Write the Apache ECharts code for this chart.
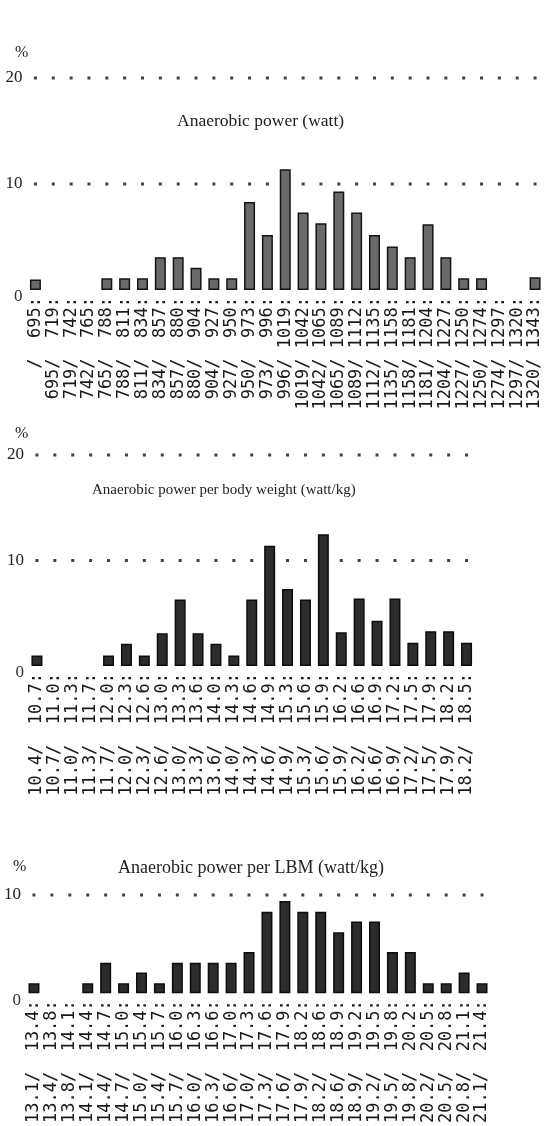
<!DOCTYPE html>
<html>
<head>
<meta charset="utf-8">
<script src="https://cdn.jsdelivr.net/npm/echarts@6/dist/echarts.min.js"></script>
<style>
html,body{margin:0;padding:0;background:#fff;}
#chart{width:544px;height:1126px;}
</style>
</head>
<body>
<div id="chart"></div>
<script>
// ---- data ----
const edges1 = ['', '695', '719', '742', '765', '788', '811', '834', '857', '880', '904', '927', '950', '973', '996',
  '1019', '1042', '1065', '1089', '1112', '1135', '1158', '1181', '1204', '1227', '1250', '1274', '1297', '1320', '1343'];
const values1 = [1.0, 0, 0, 0, 1.1, 1.1, 1.1, 3.1, 3.1, 2.1, 1.1, 1.1, 8.3, 5.2, 11.4, 7.3, 6.3, 9.3, 7.3, 5.2,
  4.1, 3.1, 6.2, 3.1, 1.1, 1.1, 0, 0, 1.2];

const edges2 = ['10.4', '10.7', '11.0', '11.3', '11.7', '12.0', '12.3', '12.6', '13.0', '13.3', '13.6', '14.0', '14.3',
  '14.6', '14.9', '15.3', '15.6', '15.9', '16.2', '16.6', '16.9', '17.2', '17.5', '17.9', '18.2', '18.5'];
const values2 = [1.0, 0, 0, 0, 1.0, 2.1, 1.0, 3.1, 6.3, 3.1, 2.1, 1.0, 6.3, 11.4, 7.3, 6.3, 12.5, 3.2, 6.4, 4.3,
  6.4, 2.2, 3.3, 3.3, 2.2];

const edges3 = ['13.1', '13.4', '13.8', '14.1', '14.4', '14.7', '15.0', '15.4', '15.7', '16.0', '16.3', '16.6', '17.0',
  '17.3', '17.6', '17.9', '18.2', '18.6', '18.9', '19.2', '19.5', '19.8', '20.2', '20.5', '20.8', '21.1', '21.4'];
const values3 = [1.0, 0, 0, 1.0, 3.1, 1.0, 2.1, 1.0, 3.1, 3.1, 3.1, 3.1, 4.2, 8.3, 9.4, 8.3, 8.3, 6.2, 7.3, 7.3,
  4.2, 4.2, 1.0, 1.0, 2.1, 1.0];

const yTicks1 = [0, 10, 20];
const yTicks2 = [0, 10, 20];
const yTicks3 = [0, 10];

const titles = ['Anaerobic power (watt)', 'Anaerobic power per body weight (watt/kg)', 'Anaerobic power per LBM (watt/kg)'];
const unitLabel = '%';

// ---- build ----
function makeLabels(edges, sep) {
  const out = [];
  for (let i = 1; i < edges.length; i++) {
    const lo = (edges[i - 1] + '/').padStart(5, ' ');
    const hi = (edges[i] + ':').padStart(5, ' ');
    out.push(lo + sep + hi);
  }
  return out;
}

const panels = [
  { edges: edges1, values: values1, ticks: yTicks1, sep: ' ', grid: { left: 26.5, width: 520.5, top: 78, height: 212 },
    fill: '#6a6a6a', border: '#151515', titleBox: { left: 177, top: 112, size: 17.5 }, pct: { left: 15, top: 45 } },
  { edges: edges2, values: values2, ticks: yTicks2, sep: '  ', grid: { left: 28, width: 447.5, top: 455, height: 211 },
    fill: '#2c2c2c', border: '#0d0d0d', titleBox: { left: 92, top: 483, size: 15 }, pct: { left: 15, top: 426 } },
  { edges: edges3, values: values3, ticks: yTicks3, sep: '  ', grid: { left: 25, width: 466, top: 895, height: 102 },
    fill: '#2c2c2c', border: '#0d0d0d', titleBox: { left: 118, top: 859, size: 18 }, pct: { left: 13, top: 859 } }
];

const grid = [], xAxis = [], yAxis = [], series = [], title = [];
const serif = "'Liberation Serif', 'DejaVu Serif', serif";

panels.forEach((p, gi) => {
  const cats = makeLabels(p.edges, p.sep);
  const maxV = p.ticks[p.ticks.length - 1];
  grid.push(Object.assign({ containLabel: false }, p.grid));
  xAxis.push({
    type: 'category', gridIndex: gi, data: cats, boundaryGap: true,
    axisLine: { show: false }, axisTick: { show: false }, splitLine: { show: false },
    axisLabel: { interval: 0, rotate: 90, margin: 7, fontFamily: "'DejaVu Sans Mono', monospace",
      fontSize: 17, color: '#1a1a1a' }
  });
  yAxis.push({
    type: 'value', gridIndex: gi, min: 0, max: maxV, interval: 10,
    axisLine: { show: false }, axisTick: { show: false }, splitLine: { show: false },
    axisLabel: { margin: 4, fontFamily: serif, fontSize: 17, color: '#222',
      formatter: v => v === 0 ? '{z|0}' : String(v),
      rich: { z: { padding: [14, 0, 0, 0], fontFamily: serif, fontSize: 17, color: '#333' } } }
  });
  // dotted reference rows at each non-zero tick, one dot per category
  const dots = [];
  p.ticks.filter(t => t > 0).forEach(t => {
    cats.forEach((c, i) => dots.push([i, t]));
  });
  series.push({
    type: 'scatter', xAxisIndex: gi, yAxisIndex: gi, data: dots, symbol: 'rect', symbolSize: 3,
    itemStyle: { color: '#111' }, silent: true, z: 1
  });
  series.push({
    type: 'bar', xAxisIndex: gi, yAxisIndex: gi, barWidth: 11, silent: true, z: 3,
    data: p.values.map(v => v > 0 ? v : { value: v, itemStyle: { borderWidth: 0, color: 'rgba(0,0,0,0)' } }),
    itemStyle: { color: p.fill, borderColor: p.border, borderWidth: 1.5 }
  });
  title.push({ text: titles[gi], left: p.titleBox.left, top: p.titleBox.top, padding: 0,
    textStyle: { fontFamily: serif, fontSize: p.titleBox.size, fontWeight: 'normal', color: '#222' } });
  title.push({ text: unitLabel, left: p.pct.left, top: p.pct.top, padding: 0,
    textStyle: { fontFamily: serif, fontSize: 16, fontWeight: 'normal', color: '#222' } });
});

const chart = echarts.init(document.getElementById('chart'), null, { renderer: 'canvas' });
chart.setOption({ animation: false, backgroundColor: '#fff', title, grid, xAxis, yAxis, series });
</script>
</body>
</html>
